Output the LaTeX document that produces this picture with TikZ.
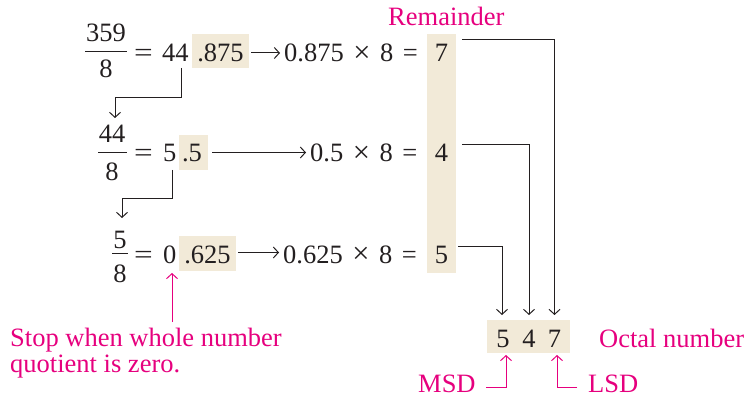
\documentclass[tikz,border=0pt]{standalone}
\usepackage{graphicx}
\usepackage{fontspec}
\setmainfont{Liberation Serif}
\usetikzlibrary{arrows.meta,calc}
\definecolor{pinkc}{RGB}{230,0,126}
\definecolor{beige}{RGB}{242,234,216}
\definecolor{ink}{RGB}{35,31,32}
\newcommand{\gp}{\hspace{9.5pt}}
\newcommand{\tms}{\raisebox{-0.5pt}{\scalebox{1.15}{×}}}
\newcommand{\beq}{\scalebox{1.25}[1]{=}}
\begin{document}
\begin{tikzpicture}[x=1pt,y=-1pt,
 txt/.style={inner sep=0pt,font=\fontsize{26.5}{30}\selectfont,text=ink},
 pk/.style={inner sep=0pt,font=\fontsize{26.5}{30}\selectfont,text=pinkc},
 hl/.style={fill=beige,draw=none,inner sep=0pt},
 conn/.style={draw=ink,line width=1pt,-{Straight Barb[length=5pt,width=11pt]}},
 pconn/.style={draw=pinkc,line width=1pt,-{Straight Barb[length=5pt,width=11pt]}},
 fline/.style={draw=ink,line width=1pt}]
\useasboundingbox (0,0) rectangle (746,398);
% highlight boxes
\node[hl,minimum width=29pt,minimum height=239pt] (col) at (441.5,153.5) {};
\node[hl,minimum width=57pt,minimum height=34pt] (f1) at (220.5,51) {};
\node[hl,minimum width=29pt,minimum height=35pt] (f2) at (193.5,152.5) {};
\node[hl,minimum width=57pt,minimum height=35pt] (f3) at (207.5,253.5) {};
\node[hl,minimum width=83pt,minimum height=33pt] (oct) at (528.5,336.5) {};
% row 1
\node[txt,anchor=base] (n1) at (106,42) {359};
\draw[fline] (85,52) -- (127,52);
\node[txt,anchor=base] (d1) at (106,78) {8};
\node[txt,anchor=base west] (eq1) at (134,62) {\beq};
\node[txt,anchor=base west] (q1) at (162,62) {44};
\node[txt,anchor=base] (f1t) at (220.5,62) {.875};
\node[txt,anchor=base west] (m1) at (284,62) {0.875\gp\tms\gp8\gp=};
\node[txt,anchor=base] (r7) at (441.5,62) {7};
% row 2
\node[txt,anchor=base] (n2) at (112,143) {44};
\draw[fline] (98,153) -- (127,153);
\node[txt,anchor=base] (d2) at (112,180) {8};
\node[txt,anchor=base west] (eq2) at (134,162) {\beq};
\node[txt,anchor=base west] (q2) at (163,162) {5};
\node[txt,anchor=base] (f2t) at (192,162) {.5};
\node[txt,anchor=base west] (m2) at (310,162) {0.5\gp\tms\gp8\gp=};
\node[txt,anchor=base] (r4) at (441.5,162) {4};
% row 3
\node[txt,anchor=base] (n3) at (120,248) {5};
\draw[fline] (112,253) -- (128,253);
\node[txt,anchor=base] (d3) at (120,282) {8};
\node[txt,anchor=base west] (eq3) at (134,263) {\beq};
\node[txt,anchor=base west] (q3) at (163,263) {0};
\node[txt,anchor=base] (f3t) at (207.5,263) {.625};
\node[txt,anchor=base west] (m3) at (283,263) {0.625\gp\tms\gp8\gp=};
\node[txt,anchor=base] (r5) at (441.5,263) {5};
% octal result
\node[txt,anchor=base] (o5) at (503,347) {5};
\node[txt,anchor=base] (o4) at (529,347) {4};
\node[txt,anchor=base] (o7) at (554.5,347) {7};
% pink labels
\node[pk,anchor=base west] (rem) at (388,26) {Remainder};
\node[pk,anchor=base west] (octl) at (599,347) {Octal number};
\node[pk,anchor=base west] (msd) at (418,392) {MSD};
\node[pk,anchor=base west] (lsd) at (588,392) {LSD};
\node[pk,anchor=base west] (stop1) at (10,346) {Stop when whole number};
\node[pk,anchor=base west] (stop2) at (10,372) {quotient is zero.};
% horizontal arrows
\draw[conn] ($(f1.east)+(2,2)$) -- ($(m1.west|-f1.east)+(-4,2)$);
\draw[conn] ($(f2.east)+(4,0)$) -- ($(m2.west|-f2.east)+(-4,0)$);
\draw[conn] ($(f3.east)+(2,-1)$) -- ($(m3.west|-f3.east)+(-4,-1)$);
% quotient carry arrows
\coordinate (c1) at (181,68);
\coordinate (c1e) at (115,118);
\draw[conn] (c1) -- (181,98) -| (c1e);
\coordinate (c2) at (172,170);
\coordinate (c2e) at (122,218);
\draw[conn] (c2) -- (172,198) -| (c2e);
% remainder to octal digits
\coordinate (t7) at (554.5,315);
\coordinate (t4) at (529,315);
\coordinate (t5) at (502,315);
\draw[conn] ($(col.east|-r7)+(6,-14)$) -| (t7);
\draw[conn] ($(col.east|-r4)+(6,-9)$) -| (t4);
\draw[conn] ($(col.east|-r5)+(2,-8)$) -| (t5);
% pink arrows
\coordinate (sa) at (172,322);
\coordinate (sb) at (172,273);
\draw[pconn] (sa) -- (sb);
\coordinate (ma) at (486,387);
\coordinate (mb) at (506,355);
\draw[pconn] (ma) -| (mb);
\coordinate (la) at (577,387);
\coordinate (lb) at (557,355);
\draw[pconn] (la) -| (lb);
\end{tikzpicture}
\end{document}
